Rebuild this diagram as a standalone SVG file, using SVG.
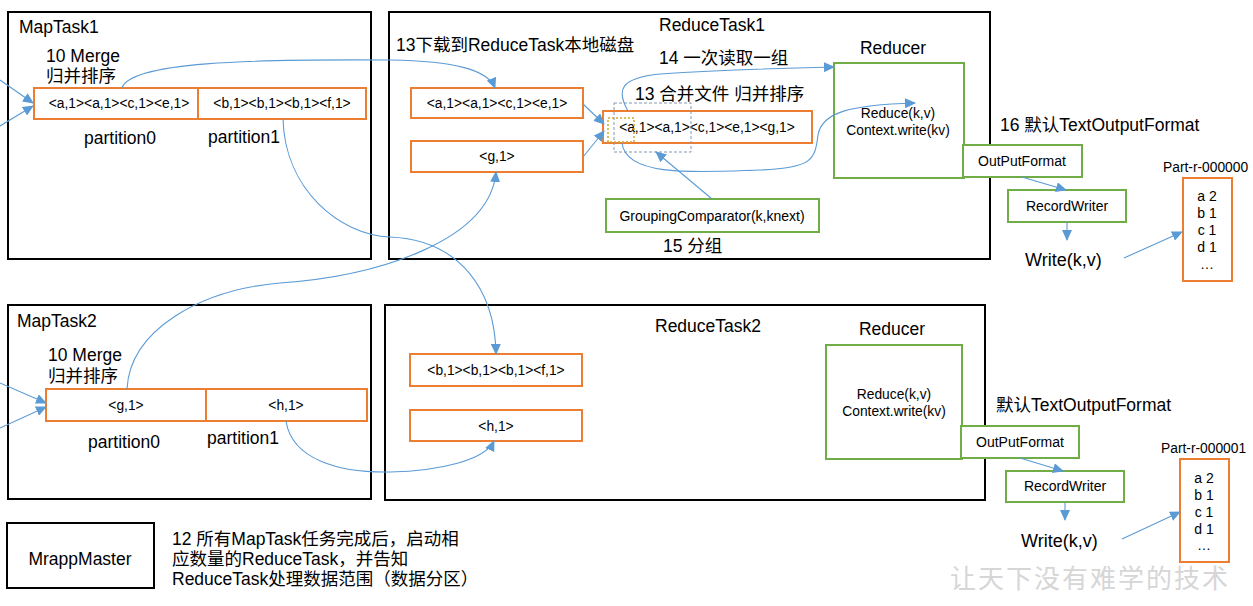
<svg xmlns="http://www.w3.org/2000/svg" width="1253" height="606" viewBox="0 0 1253 606">
<defs>
<marker id="arr" markerUnits="userSpaceOnUse" markerWidth="11" markerHeight="10" refX="10" refY="5" orient="auto">
<path d="M0,0 L11,5 L0,10 z" fill="#5b9bd5"/>
</marker>
<style>
text{font-family:"Liberation Sans","Noto Sans CJK SC",sans-serif;fill:#000}
.big{font-size:17.5px}
.mid{font-size:14px}
.sm{font-size:13.8px}
.c{text-anchor:middle}
.task{fill:#fff;stroke:#000;stroke-width:2}
.or{fill:#fff;stroke:#ed7d31;stroke-width:2}
.gr{fill:#fff;stroke:#70ad47;stroke-width:2}
.con{fill:none;stroke:#5b9bd5;stroke-width:1.1;marker-end:url(#arr)}
</style>
</defs>
<rect width="1253" height="606" fill="#fff"/>

<g id="maptask1">
<rect class="task" x="8" y="12" width="363" height="247"/>
<text class="big" x="19" y="33">MapTask1</text>
<text class="big" x="46" y="62">10 Merge</text>
<text class="big" x="46" y="82">归并排序</text>
<rect class="or" x="34" y="88" width="332" height="31"/>
<line x1="198" y1="88" x2="198" y2="119" stroke="#ed7d31" stroke-width="2"/>
<text class="sm c" x="119" y="108">&lt;a,1&gt;&lt;a,1&gt;&lt;c,1&gt;&lt;e,1&gt;</text>
<text class="sm c" x="282" y="108">&lt;b,1&gt;&lt;b,1&gt;&lt;b,1&gt;&lt;f,1&gt;</text>
<text class="big" x="84" y="144">partition0</text>
<text class="big" x="208" y="143">partition1</text>
</g>

<g id="maptask2">
<rect class="task" x="8" y="305" width="363" height="194"/>
<text class="big" x="17" y="327">MapTask2</text>
<text class="big" x="48" y="361">10 Merge</text>
<text class="big" x="48" y="382">归并排序</text>
<rect class="or" x="46" y="389" width="321" height="32"/>
<line x1="206" y1="389" x2="206" y2="421" stroke="#ed7d31" stroke-width="2"/>
<text class="sm c" x="126" y="410">&lt;g,1&gt;</text>
<text class="sm c" x="286" y="410">&lt;h,1&gt;</text>
<text class="big" x="88" y="448">partition0</text>
<text class="big" x="207" y="444">partition1</text>
</g>

<g id="reducetask1">
<rect class="task" x="389" y="12" width="601" height="247"/>
<text class="big" x="659" y="31">ReduceTask1</text>
<text class="big" x="396" y="51">13下载到ReduceTask本地磁盘</text>
<text class="big" x="659" y="64">14 一次读取一组</text>
<text class="big" x="635" y="100">13 合并文件 归并排序</text>
<text class="big" x="663" y="252">15 分组</text>
</g>

<g id="r1-box1">
<rect class="or" x="411" y="88" width="172" height="30"/>
<text class="sm c" x="497" y="108">&lt;a,1&gt;&lt;a,1&gt;&lt;c,1&gt;&lt;e,1&gt;</text>
</g>
<g id="r1-box2">
<rect class="or" x="411" y="141" width="172" height="31"/>
<text class="sm c" x="497" y="161">&lt;g,1&gt;</text>
</g>
<g id="r1-merged">
<rect class="or" x="603" y="111" width="209" height="32"/>
<text class="sm c" x="707" y="132">&lt;a,1&gt;&lt;a,1&gt;&lt;c,1&gt;&lt;e,1&gt;&lt;g,1&gt;</text>
<rect x="614" y="103" width="77" height="49" fill="none" stroke="#8496b0" stroke-width="1" stroke-dasharray="3,2"/>
<rect x="608" y="118" width="26" height="24" fill="none" stroke="#d4a62a" stroke-width="1.5" stroke-dasharray="2,2"/>
</g>
<g id="grouping">
<rect class="gr" x="606" y="199" width="213" height="33"/>
<text class="mid c" x="712" y="221">GroupingComparator(k,knext)</text>
</g>
<g id="reducer1">
<text class="big c" x="893" y="54">Reducer</text>
<rect class="gr" x="834" y="63" width="130" height="115"/>
<text class="sm c" x="898" y="118">Reduce(k,v)</text>
<text class="sm c" x="898" y="135">Context.write(kv)</text>
</g>
<g id="outputformat1">
<text class="big" x="1000" y="131">16 默认TextOutputFormat</text>
<rect class="gr" x="963" y="145" width="119" height="32"/>
<text class="mid c" x="1022" y="166">OutPutFormat</text>
</g>
<g id="recordwriter1">
<rect class="gr" x="1008" y="190" width="118" height="32"/>
<text class="mid c" x="1067" y="211">RecordWriter</text>
</g>
<g id="write1">
<text style="font-size:18px" x="1025" y="266">Write(k,v)</text>
</g>
<g id="part0">
<text class="sm" x="1163" y="172">Part-r-000000</text>
<rect class="or" x="1183" y="178" width="49" height="103"/>
<text class="mid c" x="1207" y="201">a 2</text>
<text class="mid c" x="1207" y="218">b 1</text>
<text class="mid c" x="1207" y="235">c 1</text>
<text class="mid c" x="1207" y="252">d 1</text>
<text class="mid c" x="1207" y="269">…</text>
</g>

<g id="reducetask2">
<rect class="task" x="385" y="305" width="600" height="195"/>
<text class="big" x="655" y="332">ReduceTask2</text>
</g>
<g id="r2-box1">
<rect class="or" x="410" y="354" width="172" height="32"/>
<text class="sm c" x="496" y="375">&lt;b,1&gt;&lt;b,1&gt;&lt;b,1&gt;&lt;f,1&gt;</text>
</g>
<g id="r2-box2">
<rect class="or" x="410" y="410" width="172" height="31"/>
<text class="sm c" x="496" y="431">&lt;h,1&gt;</text>
</g>
<g id="reducer2">
<text class="big c" x="892" y="335">Reducer</text>
<rect class="gr" x="826" y="345" width="136" height="114"/>
<text class="sm c" x="894" y="399">Reduce(k,v)</text>
<text class="sm c" x="894" y="416">Context.write(kv)</text>
</g>
<g id="outputformat2">
<text class="big" x="996" y="411">默认TextOutputFormat</text>
<rect class="gr" x="961" y="426" width="118" height="32"/>
<text class="mid c" x="1020" y="447">OutPutFormat</text>
</g>
<g id="recordwriter2">
<rect class="gr" x="1006" y="471" width="118" height="31"/>
<text class="mid c" x="1065" y="491">RecordWriter</text>
</g>
<g id="write2">
<text style="font-size:18px" x="1021" y="547">Write(k,v)</text>
</g>
<g id="part1">
<text class="sm" x="1161" y="453">Part-r-000001</text>
<rect class="or" x="1180" y="459" width="49" height="103"/>
<text class="mid c" x="1204" y="483">a 2</text>
<text class="mid c" x="1204" y="500">b 1</text>
<text class="mid c" x="1204" y="517">c 1</text>
<text class="mid c" x="1204" y="534">d 1</text>
<text class="mid c" x="1204" y="550">…</text>
</g>

<g id="mrappmaster">
<rect class="task" x="7" y="523" width="147" height="65"/>
<text class="big c" x="80" y="565">MrappMaster</text>
</g>
<g id="note12">
<text class="big" x="172" y="545">12 所有MapTask任务完成后，启动相</text>
<text class="big" x="172" y="565">应数量的ReduceTask，并告知</text>
<text class="big" x="172" y="585">ReduceTask处理数据范围（数据分区）</text>
</g>

<g id="connectors">
<path class="con" d="M0,80 L33,103"/>
<path class="con" d="M0,126 L33,106"/>
<path class="con" d="M0,383 L46,403"/>
<path class="con" d="M0,428 L46,407"/>
<path class="con" d="M122,88 C130,62 250,59 390,60 C455,61 488,70 495,88"/>
<path class="con" d="M283,119 C285,190 340,235 390,237 C460,240 495,290 496,354"/>
<path class="con" d="M127,389 C130,330 200,290 280,283 C380,276 490,240 496,172"/>
<path class="con" d="M286,421 C292,460 340,473 390,472 C440,471 485,460 494,441"/>
<path class="con" d="M583,104 L604,124"/>
<path class="con" d="M583,157 L604,131"/>
<path class="con" d="M712,199 L656,152"/>
<path class="con" d="M628,111 C616,90 620,78 660,74 C720,70 790,68 834,67"/>
<path class="con" d="M622,143 C626,178 700,172 760,170 C812,168 815,160 818,135 C822,112 850,105 915,103"/>
<path class="con" d="M1022,177 L1066,190"/>
<path class="con" d="M1067,222 L1067,240"/>
<path class="con" d="M1124,258 L1182,232"/>
<path class="con" d="M1020,458 L1063,471"/>
<path class="con" d="M1065,502 L1065,520"/>
<path class="con" d="M1122,539 L1180,512"/>
</g>

<text x="950" y="588" style="font-family:'Noto Sans CJK SC',sans-serif;font-size:26px;letter-spacing:2px;fill:#d6d6d6">让天下没有难学的技术</text>
</svg>
